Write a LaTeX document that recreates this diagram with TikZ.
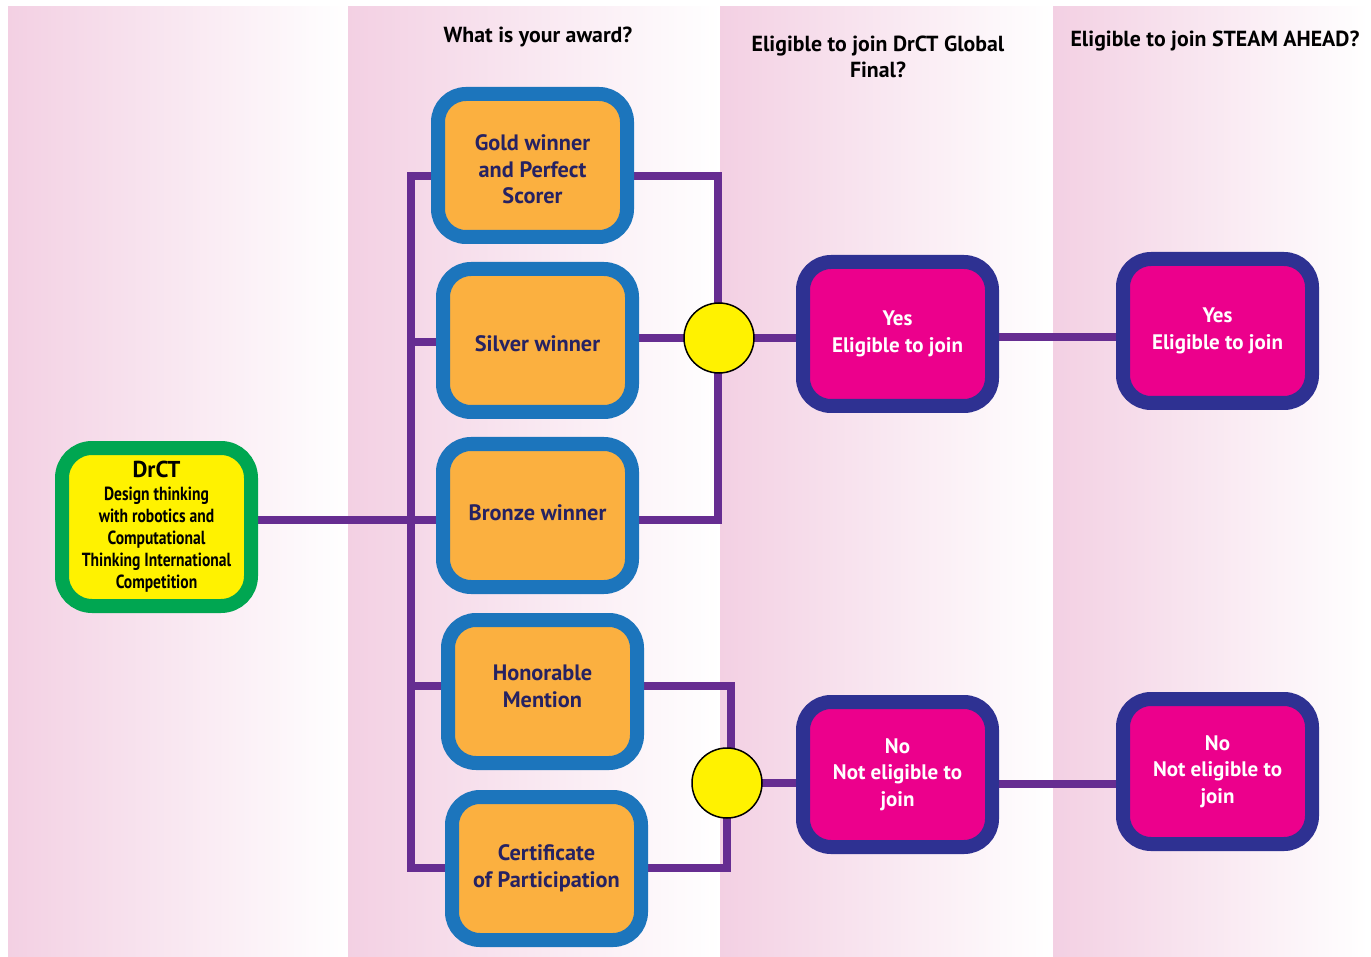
\documentclass[tikz,border=0pt]{standalone}
\usepackage{fontspec}
\setmainfont{PT Sans}
\newfontfamily\condfont[FakeStretch=0.82]{PT Sans}
\usetikzlibrary{calc}
\definecolor{bgpink}{RGB}{243,208,227}
\definecolor{awfill}{RGB}{251,176,64}
\definecolor{awblue}{RGB}{28,117,188}
\definecolor{awtext}{RGB}{38,34,98}
\definecolor{conncol}{RGB}{102,45,145}
\definecolor{resfill}{RGB}{236,0,140}
\definecolor{resnavy}{RGB}{46,49,146}
\definecolor{drgreen}{RGB}{0,166,81}
\definecolor{dryellow}{RGB}{255,242,0}
\newcommand{\lowtext}[2]{\raisebox{#1}[\height][\depth]{\begin{tabular}{@{}c@{}}#2\end{tabular}}}
\pgfdeclarelayer{bg}
\pgfdeclarelayer{lines}
\pgfsetlayers{bg,lines,main}
\tikzset{
  award/.style={draw=awblue, line width=14pt, fill=awfill, rounded corners=28pt,
    minimum width=189pt, minimum height=143pt, align=center, text=awtext,
    font=\bfseries\fontsize{22.3}{26.5}\selectfont, inner sep=0pt},
  result/.style={draw=resnavy, line width=14pt, fill=resfill, rounded corners=28pt,
    minimum width=189pt, minimum height=144pt, align=center, text=white,
    font=\bfseries\fontsize{21}{26.5}\selectfont, inner sep=0pt},
  drbox/.style={draw=drgreen, line width=14pt, fill=dryellow, rounded corners=30pt,
    minimum width=189pt, minimum height=158pt, align=center, text=black, inner sep=0pt,
    font=\condfont\bfseries\fontsize{19}{22}\selectfont},
  conn/.style={draw=conncol, line width=8pt, line join=miter},
  junction/.style={circle, draw=black, line width=1.5pt, fill=dryellow, minimum size=70pt, inner sep=0pt},
  header/.style={align=center, text=black, font=\bfseries\fontsize{21.8}{26}\selectfont},
}
\begin{document}
\begin{tikzpicture}[x=1pt,y=-1pt]
\useasboundingbox (0,0) rectangle (1371,957);
\begin{pgfonlayer}{bg}
  \fill[white] (0,0) rectangle (1371,957);
  \shade[left color=bgpink, right color=white] (8,7) rectangle (348,957);
  \shade[left color=bgpink, right color=white] (348,7) rectangle (720,957);
  \shade[left color=bgpink, right color=white] (720,7) rectangle (1053,957);
  \shade[left color=bgpink, right color=white] (1053,7) rectangle (1368,957);
\end{pgfonlayer}

% headers
\node[header] (h2) at (538,37) {What is your award?};
\node[header] (h3) at (878,57) {Eligible to join DrCT Global\\Final?};
\node[header] (h4) at (1215,41) {Eligible to join STEAM AHEAD?};

% boxes
\node[drbox] (drct) at (156.5,527) {{\normalfont\bfseries\fontsize{23}{24}\selectfont DrCT}\\[1pt]
  Design thinking\\with robotics and\\Computational\\Thinking International\\Competition};
\node[award] (gold) at (532.5,165.5) {\lowtext{-6.5pt}{Gold winner\\and Perfect\\Scorer}};
\node[award] (silver) at (537.5,340.5) {\lowtext{-5.5pt}{Silver winner}};
\node[award] (bronze) at (537.5,515.5) {\lowtext{0pt}{Bronze winner}};
\node[award] (hon) at (542.5,691.5) {\lowtext{3pt}{Honorable\\Mention}};
\node[award] (cert) at (546.5,868.5) {\lowtext{0pt}{Certificate\\of Participation}};

\node[result] (yes1) at (897.5,334) {Yes\\Eligible to join};
\node[result] (yes2) at (1217.5,331) {Yes\\Eligible to join};
\node[result, minimum height=145pt] (no1) at (897.5,774.5) {No\\Not eligible to\\join};
\node[result, minimum height=145pt] (no2) at (1217.5,771.5) {No\\Not eligible to\\join};

\node[junction] (c1) at (719,338) {};
\node[junction] (c2) at (727,783) {};

\coordinate (busT) at (411,176);
\coordinate (busB) at (411,868);
\coordinate (ymain) at (0,520);
\coordinate (ysil) at (0,342);
\coordinate (yhon) at (0,686);

\begin{pgfonlayer}{lines}
  \draw[conn] (gold.west |- busT) -- (busT) -- (busB) -- (cert.west |- busB);
  \draw[conn] (drct.east |- ymain) -- (bronze.west |- ymain);
  \draw[conn] (busT |- ysil) -- (silver.west |- ysil);
  \draw[conn] (busT |- yhon) -- (hon.west |- yhon);
  \draw[conn] (gold.east |- busT) -| ([xshift=-1pt]c1.center);
  \draw[conn] (silver.east |- c1.center) -- (c1.center);
  \draw[conn] (bronze.east |- ymain) -| ([xshift=-1pt]c1.center);
  \draw[conn] (c1.center) -- (yes1.west |- c1.center);
  \draw[conn] (yes1.center |- 0,337) -- (yes2.center |- 0,337);
  \draw[conn] (hon.east |- yhon) -| ([xshift=4pt]c2.center);
  \draw[conn] (cert.east |- busB) -| (c2.center);
  \draw[conn] (c2.center) -- (no1.center |- c2.center);
  \draw[conn] (no1.center |- 0,784) -- (no2.center |- 0,784);
\end{pgfonlayer}
\end{tikzpicture}
\end{document}
